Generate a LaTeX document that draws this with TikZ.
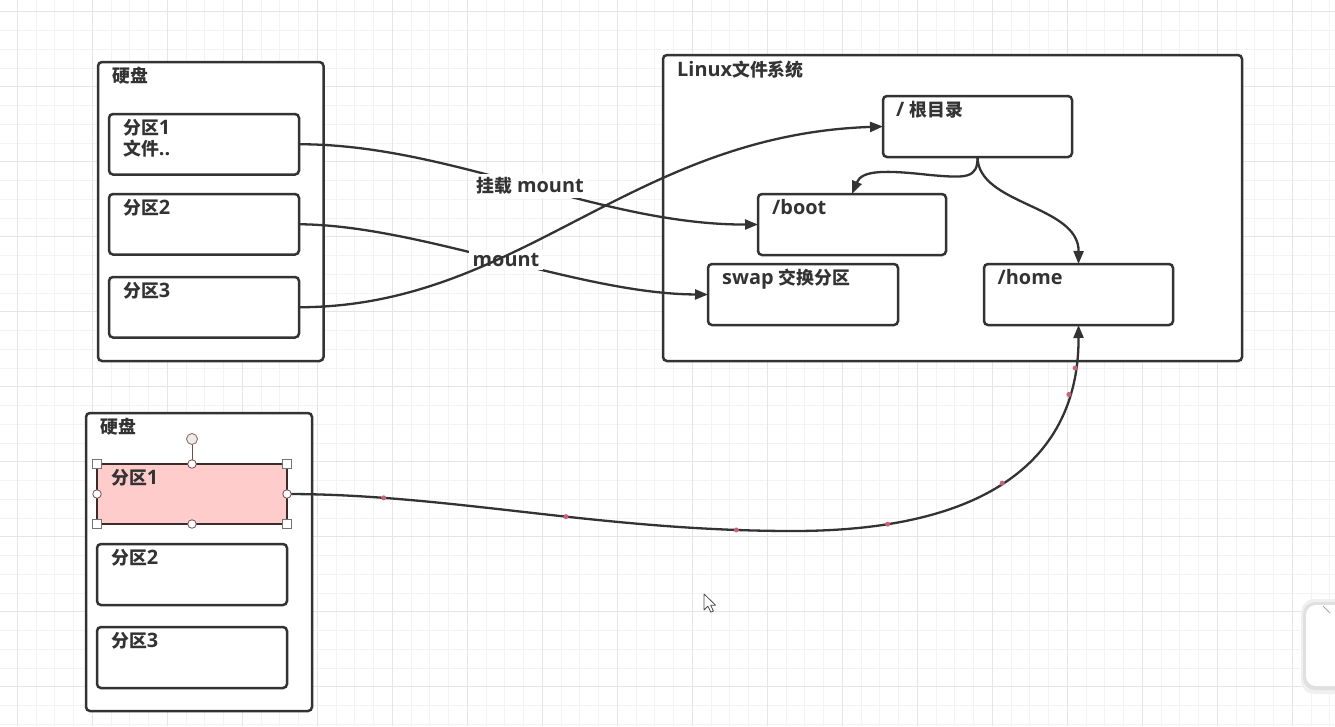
\documentclass[tikz,border=0pt]{standalone}
\usepackage{fontspec}
\setmainfont{Open Sans}[Scale=1.17]
\newfontfamily\cjk{Noto Sans CJK SC}[Scale=1.05]
\newcommand{\zh}[1]{{\cjk #1}}
\usetikzlibrary{arrows.meta}
\definecolor{ink}{HTML}{333333}
\definecolor{gridminor}{HTML}{F3F3F3}
\definecolor{gridmajor}{HTML}{E5E5E5}
\definecolor{selfill}{HTML}{FFCCCC}
\definecolor{selline}{HTML}{3B2B2B}
\definecolor{waypt}{HTML}{C8647A}
\definecolor{handle}{HTML}{7A4A4A}
\begin{document}
\begin{tikzpicture}[x=1pt,y=-1pt,
  box/.style={draw=ink, line width=2.5pt, rounded corners=4pt, fill=white, anchor=north west, inner sep=0pt, outer sep=0pt},
  lbl/.style={anchor=north west, inner sep=0pt, text=ink, font=\fontsize{17}{21}\selectfont\bfseries, align=left},
  clbl/.style={inner sep=3.5pt, fill=white, text=ink, font=\fontsize{17}{21}\selectfont\bfseries},
  conn/.style={draw=ink, line width=2.3pt, -{Triangle[length=13pt,width=10pt]}},
  wdot/.style={circle, fill=waypt, inner sep=0pt, minimum size=5pt},
  hsq/.style={draw=black!55, fill=white, line width=0.8pt, minimum size=8.5pt, inner sep=0pt},
  hci/.style={circle, draw=handle, fill=white, line width=0.8pt, minimum size=8.5pt, inner sep=0pt}]
\useasboundingbox (0,0) rectangle (1335,726);
\fill[white] (0,0) rectangle (1335,726);
% grid
\foreach \k in {0,...,71} {\pgfmathsetmacro\xx{17.3+18.75*\k}\draw[gridminor, line width=0.9pt] (\xx,0) -- (\xx,726);}
\foreach \k in {0,...,38} {\pgfmathsetmacro\yy{11.7+18.75*\k}\draw[gridminor, line width=0.9pt] (0,\yy) -- (1335,\yy);}
\foreach \k in {0,...,17} {\pgfmathsetmacro\xx{17.3+75*\k}\draw[gridmajor, line width=1pt] (\xx,0) -- (\xx,726);}
\foreach \k in {0,...,9} {\pgfmathsetmacro\yy{11.7+75*\k}\draw[gridmajor, line width=1pt] (0,\yy) -- (1335,\yy);}
% top disk
\node[box, minimum width=225.5pt, minimum height=299pt] (disk1) at (98,62) {};
\node[lbl] (disk1t) at ([xshift=14pt,yshift=-5pt]disk1.north west) {\zh{硬盘}};
\node[box, minimum width=190pt, minimum height=60.5pt] (p1) at (109,114) {};
\node[lbl] (p1t) at ([xshift=14pt,yshift=-5pt]p1.north west) {\zh{分区}1\\\zh{文件}..};
\node[box, minimum width=190pt, minimum height=60.5pt] (p2) at (109,194) {};
\node[lbl] (p2t) at ([xshift=14pt,yshift=-5pt]p2.north west) {\zh{分区}2};
\node[box, minimum width=190pt, minimum height=60.5pt] (p3) at (109,277) {};
\node[lbl] (p3t) at ([xshift=14pt,yshift=-5pt]p3.north west) {\zh{分区}3};
% linux fs
\node[box, minimum width=579pt, minimum height=306pt] (linux) at (663,55) {};
\node[lbl] (linuxt) at ([xshift=14pt,yshift=-6pt]linux.north west) {Linux\zh{文件系统}};
\node[box, minimum width=189pt, minimum height=61pt] (root) at (883,96) {};
\node[lbl] (roott) at ([xshift=13pt,yshift=-5pt]root.north west) {/ \zh{根目录}};
\node[box, minimum width=188pt, minimum height=61pt] (boot) at (758,194) {};
\node[lbl] (boott) at ([xshift=14pt,yshift=-5pt]boot.north west) {/boot};
\node[box, minimum width=190pt, minimum height=61pt] (swap) at (708,264) {};
\node[lbl] (swapt) at ([xshift=14pt,yshift=-5pt]swap.north west) {swap \zh{交换分区}};
\node[box, minimum width=189pt, minimum height=61pt] (home) at (984,264) {};
\node[lbl] (homet) at ([xshift=13.5pt,yshift=-5pt]home.north west) {/home};
% bottom disk
\node[box, minimum width=226pt, minimum height=298pt] (disk2) at (86,413) {};
\node[lbl] (disk2t) at ([xshift=14pt,yshift=-5pt]disk2.north west) {\zh{硬盘}};
\node[box, draw=selline, fill=selfill, rounded corners=0pt, minimum width=190pt, minimum height=60pt] (bp1) at (97,464) {};
\node[lbl] (bp1t) at ([xshift=14pt,yshift=-5pt]bp1.north west) {\zh{分区}1};
\node[box, minimum width=190pt, minimum height=61pt] (bp2) at (97,544) {};
\node[lbl] (bp2t) at ([xshift=14pt,yshift=-5pt]bp2.north west) {\zh{分区}2};
\node[box, minimum width=190pt, minimum height=61pt] (bp3) at (97,627) {};
\node[lbl] (bp3t) at ([xshift=14pt,yshift=-5pt]bp3.north west) {\zh{分区}3};
% connectors with labels
\draw[conn] (p1.east) .. controls (450,144) and (600,225) .. (boot.west);
\draw[conn] (p2.east) .. controls (420,225) and (580,294) .. (swap.west);
\node[clbl] (l1) at (530,186) {\zh{挂载} mount};
\node[clbl] (l2) at (506,260) {mount};
\draw[conn] (p3.east) .. controls (520,307) and (630,135) .. (root.west);
\draw[conn] (root.south) .. controls (978,179) and (965,178) .. (930,175) .. controls (885,170) and (862,170) .. (boot.north);
\draw[conn] (root.south) .. controls (978,205) and (1079,205) .. (home.north);
\coordinate (low) at (793,531);
\draw[conn] (bp1.east) .. controls (450,494) and (600,531) .. (low)
   node[wdot, pos=0.2] (w1) {} node[wdot, pos=0.575] (w2) {} node[wdot, pos=0.9] (w3) {}
   .. controls (1000,531) and (1079,450) .. (home.south)
   node[wdot, pos=0.17] (w4) {} node[wdot, pos=0.46] (w5) {} node[wdot, pos=0.8] (w6) {} node[wdot, pos=0.88] (w7) {};
% selection handles
\coordinate (rot) at (192,439);
\draw[handle, line width=1pt] (bp1.north) -- (rot);
\node[circle, draw=handle!80, fill=black!8, line width=0.9pt, minimum size=11pt, inner sep=0pt] (roth) at (rot) {};
\node[hsq] (s1) at (bp1.north west) {};
\node[hsq] (s2) at (bp1.north east) {};
\node[hsq] (s3) at (bp1.south west) {};
\node[hsq] (s4) at (bp1.south east) {};
\node[hci] (c1) at (bp1.north) {};
\node[hci] (c2) at (bp1.south) {};
\node[hci] (c3) at (bp1.west) {};
\node[hci] (c4) at (bp1.east) {};
% mouse cursor
\draw[fill=white, draw=black!70, line width=0.8pt, line join=round]
  (704,594) -- (704,610) -- (707.8,606.2) -- (710.8,612.2) -- (713.4,611) -- (710.6,605.2) -- (715.6,605.2) -- cycle;
% side widget
\fill[black!6, rounded corners=13pt] (1301,599) rectangle (1350,694);
\fill[black!12, rounded corners=12pt] (1303,602) rectangle (1350,690);
\fill[white, rounded corners=10pt] (1306,605) rectangle (1350,686);
\draw[black!35, line width=1pt] (1323,606) -- (1330,613);
\end{tikzpicture}
\end{document}
